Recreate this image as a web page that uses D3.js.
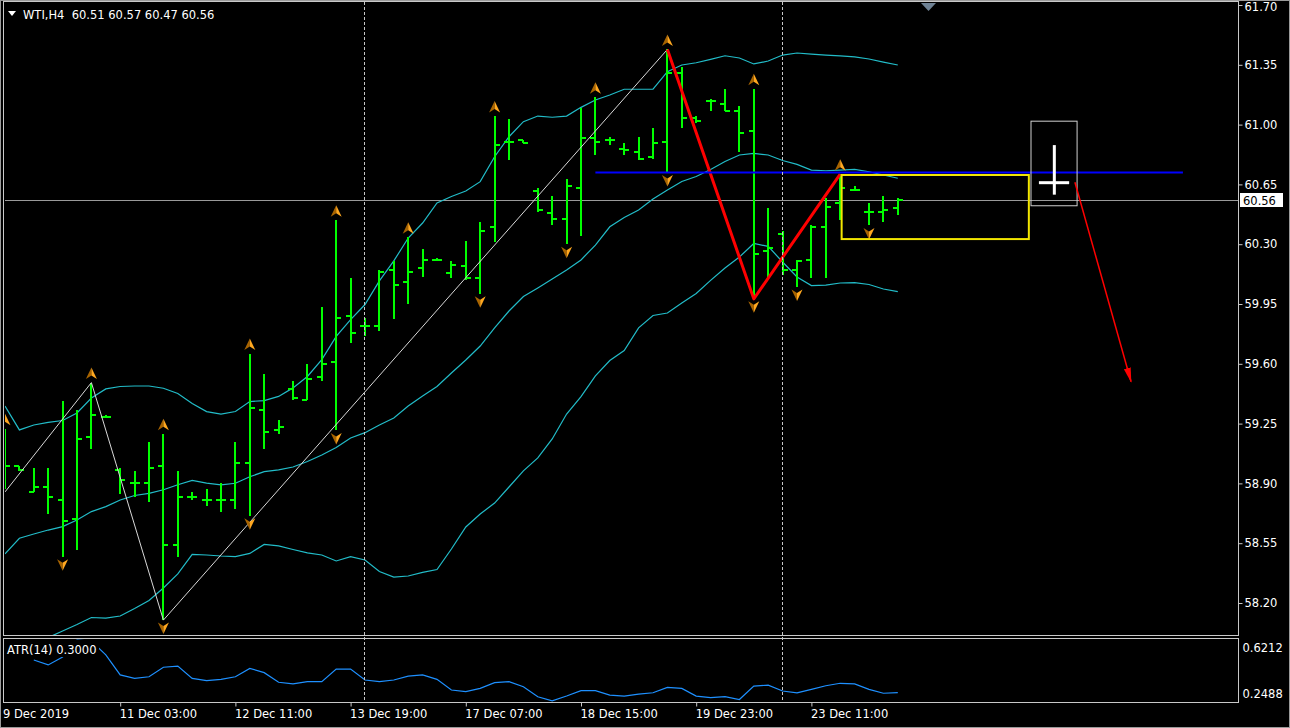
<!DOCTYPE html>
<html>
<head>
<meta charset="utf-8">
<script src="https://cdn.jsdelivr.net/npm/d3@7"></script>
<style>
  body { margin: 0; background: #000; }
  svg { display: block; }
  text { font-family: "DejaVu Sans", sans-serif; font-size: 11.5px; fill: #fff; }
</style>
</head>
<body>
<script>
//WTI H4 bar chart with bollinger bands, zigzag, fractals and ATR(14) subwindow

//Declares Global variables
var W = 1290;
var H = 728;
var Left = 4, Right = 1238, Top = 2, MainBottom = 635;
var SubTop = 639, SubBottom = 702;

//Bar data (OHLC), one entry per H4 bar
var barOpen = [59.00, 59.00, 58.85, 58.88, 58.80, 58.69, 59.17, 59.29, 58.98, 58.90,
  58.90, 59.00, 58.54, 58.82, 58.80, 58.80, 58.80, 59.02, 59.33, 59.21,
  59.45, 59.39, 59.52, 59.61, 59.88, 59.82, 59.82, 60.15, 60.08, 60.16,
  60.21, 60.13, 60.17, 60.10, 60.40, 60.90, 60.91, 60.61, 60.48, 60.45,
  60.63, 60.92, 60.91, 60.86, 60.84, 60.81, 60.90, 61.30, 61.04, 61.14,
  61.12, 61.08, 60.96, 60.26, 60.36, 60.15, 60.21, 60.40, 60.54, 60.62,
  60.49, 60.49, 60.51];
var barHigh = [59.22, 59.00, 58.99, 58.99, 59.38, 59.33, 59.49, 59.30, 58.99, 58.97,
  59.14, 59.19, 58.97, 58.85, 58.87, 58.90, 59.14, 59.66, 59.54, 59.27,
  59.50, 59.60, 59.93, 60.44, 60.10, 59.87, 60.15, 60.20, 60.34, 60.27,
  60.22, 60.20, 60.32, 60.43, 61.05, 61.03, 60.91, 60.63, 60.58, 60.68,
  61.10, 61.16, 60.93, 60.89, 60.93, 60.98, 61.44, 61.34, 61.05, 61.15,
  61.21, 61.11, 61.21, 60.51, 60.38, 60.21, 60.41, 60.57, 60.71, 60.64,
  60.54, 60.58, 60.57];
var barLow = [58.87, 58.97, 58.85, 58.72, 58.47, 58.51, 59.10, 59.28, 58.84, 58.82,
  58.79, 58.10, 58.47, 58.80, 58.77, 58.73, 58.75, 58.71, 59.10, 59.19,
  59.39, 59.39, 59.50, 59.21, 59.72, 59.76, 59.79, 59.86, 59.95, 60.11,
  60.20, 60.10, 60.09, 60.01, 60.31, 60.79, 60.89, 60.49, 60.41, 60.30,
  60.35, 60.82, 60.88, 60.82, 60.79, 60.80, 60.72, 60.98, 61.01, 61.08,
  61.08, 60.84, 59.98, 60.10, 60.12, 60.05, 60.10, 60.10, 60.44, 60.62,
  60.41, 60.43, 60.47];
var barClose = [59.00, 58.98, 58.88, 58.82, 58.68, 59.16, 59.30, 59.29, 58.92, 58.90,
  58.99, 58.54, 58.82, 58.82, 58.80, 58.80, 59.02, 59.34, 59.20, 59.23,
  59.40, 59.51, 59.60, 59.87, 59.78, 59.82, 60.14, 60.06, 60.14, 60.21,
  60.21, 60.18, 60.10, 60.38, 60.88, 60.90, 60.89, 60.50, 60.45, 60.64,
  60.92, 60.90, 60.91, 60.85, 60.80, 60.89, 61.30, 61.04, 61.02, 61.14,
  61.08, 60.95, 60.24, 60.28, 60.15, 60.20, 60.40, 60.52, 60.63, 60.62,
  60.49, 60.50, 60.56];

//Bollinger bands
var bbUpper = [59.353, 59.213, 59.242, 59.257, 59.268, 59.312, 59.400, 59.453, 59.467, 59.470,
  59.470, 59.457, 59.426, 59.368, 59.320, 59.306, 59.321, 59.379, 59.385, 59.409,
  59.459, 59.526, 59.625, 59.760, 59.859, 59.947, 60.085, 60.202, 60.336, 60.424,
  60.541, 60.579, 60.611, 60.666, 60.812, 60.929, 61.017, 61.050, 61.043, 61.050,
  61.101, 61.144, 61.173, 61.207, 61.207, 61.207, 61.310, 61.349, 61.362, 61.382,
  61.403, 61.390, 61.355, 61.372, 61.407, 61.419, 61.413, 61.407, 61.402, 61.396,
  61.384, 61.366, 61.349];
var bbMiddle = [58.487, 58.579, 58.604, 58.627, 58.647, 58.686, 58.735, 58.764, 58.803, 58.829,
  58.842, 58.863, 58.892, 58.918, 58.902, 58.891, 58.901, 58.939, 58.969, 58.979,
  58.996, 59.028, 59.066, 59.110, 59.166, 59.197, 59.242, 59.283, 59.353, 59.412,
  59.467, 59.546, 59.622, 59.704, 59.810, 59.909, 59.994, 60.044, 60.096, 60.149,
  60.208, 60.295, 60.402, 60.456, 60.500, 60.565, 60.617, 60.667, 60.696, 60.737,
  60.784, 60.822, 60.831, 60.822, 60.790, 60.767, 60.734, 60.730, 60.734, 60.738,
  60.724, 60.705, 60.686];
var bbLower = [57.884, 57.919, 57.960, 57.998, 58.036, 58.074, 58.115, 58.111, 58.124, 58.168,
  58.215, 58.288, 58.370, 58.484, 58.481, 58.475, 58.471, 58.490, 58.543, 58.534,
  58.513, 58.493, 58.481, 58.446, 58.471, 58.452, 58.384, 58.352, 58.358, 58.379,
  58.396, 58.516, 58.645, 58.721, 58.785, 58.879, 58.973, 59.049, 59.160, 59.306,
  59.408, 59.529, 59.619, 59.678, 59.810, 59.883, 59.897, 59.956, 60.012, 60.088,
  60.161, 60.225, 60.304, 60.287, 60.196, 60.108, 60.058, 60.061, 60.073, 60.075,
  60.064, 60.038, 60.022];

//ATR(14)
var atrValues = [null, null, 0.499, 0.469, 0.517, 0.621, 0.615, 0.530, 0.408, 0.387,
  0.397, 0.455, 0.462, 0.387, 0.373, 0.381, 0.397, 0.448, 0.422, 0.363,
  0.353, 0.367, 0.367, 0.444, 0.444, 0.377, 0.367, 0.377, 0.401, 0.408,
  0.381, 0.316, 0.306, 0.326, 0.361, 0.367, 0.336, 0.275, 0.250, 0.279,
  0.312, 0.312, 0.285, 0.279, 0.291, 0.299, 0.332, 0.326, 0.279, 0.269,
  0.275, 0.258, 0.340, 0.346, 0.310, 0.299, 0.320, 0.342, 0.357, 0.353,
  0.320, 0.296, 0.300];

//Axis ticks
var priceTicks = [61.70, 61.35, 61.00, 60.65, 60.30, 59.95, 59.60, 59.25, 58.90, 58.55, 58.20];
var atrTicks = [0.6212, 0.2488];
var timeTickBars = [8, 16, 24, 32, 40, 48, 56];
var timeTickLabels = ["11 Dec 03:00", "12 Dec 11:00", "13 Dec 19:00", "17 Dec 07:00",
  "18 Dec 15:00", "19 Dec 23:00", "23 Dec 11:00"];
var firstDateLabel = "9 Dec 2019";
var separatorBars = [25, 54];
var lastPrice = 60.56;
var headerText = "WTI,H4  60.51 60.57 60.47 60.56";
var atrLabel = "ATR(14) 0.3000";

//Fractals and zigzag
var fractalUpBars = [0, 6, 11, 17, 23, 28, 34, 41, 46, 52, 58];
var fractalDownBars = [4, 11, 17, 23, 33, 39, 46, 52, 55, 60];
var zigzagWhite = [[0, 58.85], [6, 59.49], [11, 58.10], [46, 61.44]];
var zigzagRed = [[46, 61.44], [52, 59.98], [58, 60.71]];

//Drawn objects, in bar index / price units
var hlinePrice = 60.72, hlineBars = [41, 81.8];
var yellowBars = [58.1, 71.1], yellowPrices = [60.705, 60.33];
var whiteBars = [71.25, 74.45], whitePrices = [61.02, 60.525];
var crossBar = 72.87, crossPrices = [60.88, 60.59];
var crossPrice = 60.66, crossBars = [71.8, 73.9];
var arrowFrom = [74.3, 60.663], arrowTo = [78.2, 59.495];

function main() {
  var svg = makeSVG("body");
  var xScale = d3.scaleLinear().domain([0, 62]).range([5, 897.8]);
  var yScale = d3.scaleLinear().domain([58.20, 61.70]).range([603, 5]);
  var atrScale = d3.scaleLinear().domain([0.2488, 0.6212]).range([701, 640]);

  makeFrames(svg);
  var gMain = svg.append("g").attr("clip-path", "url(#mainClip)");
  var gSub = svg.append("g").attr("clip-path", "url(#subClip)");

  //period separators go through both windows
  svg.selectAll(".sep")
    .data(separatorBars)
    .enter()
    .append("line")
    .attr("x1", function(d) { return Math.round(xScale(d)) - 0.5; })
    .attr("x2", function(d) { return Math.round(xScale(d)) - 0.5; })
    .attr("y1", Top)
    .attr("y2", SubBottom)
    .attr("stroke", "#c8c8c8")
    .attr("stroke-dasharray", "3,2");

  //bid line
  gMain.append("line")
    .attr("x1", Left).attr("x2", Right)
    .attr("y1", Math.round(yScale(lastPrice)) + 0.5)
    .attr("y2", Math.round(yScale(lastPrice)) + 0.5)
    .attr("stroke", "#9a9a9a");

  drawBands(gMain, xScale, yScale);
  drawBars(gMain, xScale, yScale);
  drawZigzag(gMain, xScale, yScale);
  drawFractals(gMain, xScale, yScale);
  drawObjects(svg, gMain, xScale, yScale);
  drawATR(gSub, svg, xScale, atrScale);
  drawAxes(svg, xScale, yScale, atrScale);
}

function makeSVG(svgLocation) {
  //Creates svg and returns it
  var svg = d3.select(svgLocation)
        .append("svg")
        .attr("width", W)
        .attr("height", H);
  svg.append("rect").attr("width", W).attr("height", H).attr("fill", "#000");
  var defs = svg.append("defs");
  defs.append("clipPath").attr("id", "mainClip")
    .append("rect").attr("x", Left + 1).attr("y", Top + 1)
    .attr("width", Right - Left - 1).attr("height", MainBottom - Top - 1);
  defs.append("clipPath").attr("id", "subClip")
    .append("rect").attr("x", Left + 1).attr("y", SubTop)
    .attr("width", Right - Left - 1).attr("height", SubBottom - SubTop);
  defs.append("marker")
    .attr("id", "arrowHead")
    .attr("markerUnits", "userSpaceOnUse")
    .attr("markerWidth", 16).attr("markerHeight", 8)
    .attr("refX", 14).attr("refY", 3.5)
    .attr("orient", "auto")
    .append("path")
    .attr("d", "M0,0 L15,3.5 L0,7 Z")
    .attr("fill", "#ff0000");
  return svg;
}

function makeFrames(svg) {
  //window border and the two chart frames
  svg.append("rect")
    .attr("x", 0.5).attr("y", 0.5).attr("width", W - 1).attr("height", H - 1)
    .attr("fill", "none").attr("stroke", "#9a9a9a");
  svg.append("rect")
    .attr("x", Left - 0.5).attr("y", Top - 0.5)
    .attr("width", Right - Left + 1).attr("height", MainBottom - Top + 1)
    .attr("fill", "none").attr("stroke", "#c8c8c8");
  svg.append("rect")
    .attr("x", Left - 0.5).attr("y", SubTop - 0.5)
    .attr("width", Right - Left + 1).attr("height", SubBottom - SubTop + 1)
    .attr("fill", "none").attr("stroke", "#c8c8c8");
}

function drawBands(g, xScale, yScale) {
  var bands = [bbUpper, bbMiddle, bbLower];
  var line = d3.line()
    .x(function(d, i) { return xScale(i); })
    .y(function(d) { return yScale(d); });
  g.selectAll(".band")
    .data(bands)
    .enter()
    .append("path")
    .attr("d", line)
    .attr("fill", "none")
    .attr("stroke", "#22bcc8")
    .attr("stroke-width", 1.2);
}

function drawBars(g, xScale, yScale) {
  //high-low line with open tick left and close tick right
  var idx = d3.range(barOpen.length);
  var bars = g.selectAll(".bar")
    .data(idx)
    .enter()
    .append("g")
    .attr("shape-rendering", "crispEdges")
    .attr("fill", "#00ff00");
  bars.append("rect")
    .attr("x", function(i) { return Math.round(xScale(i)) - 1; })
    .attr("y", function(i) { return Math.round(yScale(barHigh[i])); })
    .attr("width", 2)
    .attr("height", function(i) {
      return Math.max(2, Math.round(yScale(barLow[i])) - Math.round(yScale(barHigh[i])));
    });
  bars.append("rect")
    .attr("x", function(i) { return Math.round(xScale(i)) - 5; })
    .attr("y", function(i) { return Math.round(yScale(barOpen[i])) - 1; })
    .attr("width", 5)
    .attr("height", 2);
  bars.append("rect")
    .attr("x", function(i) { return Math.round(xScale(i)); })
    .attr("y", function(i) { return Math.round(yScale(barClose[i])) - 1; })
    .attr("width", 5)
    .attr("height", 2);
}

function drawZigzag(g, xScale, yScale) {
  var line = d3.line()
    .x(function(d) { return xScale(d[0]); })
    .y(function(d) { return yScale(d[1]); });
  g.append("path")
    .attr("d", line(zigzagWhite))
    .attr("fill", "none")
    .attr("stroke", "#d8d8d8")
    .attr("stroke-width", 1);
  g.append("path")
    .attr("d", line(zigzagRed))
    .attr("fill", "none")
    .attr("stroke", "#ff0000")
    .attr("stroke-width", 3)
    .attr("stroke-linejoin", "round");
}

function drawFractals(g, xScale, yScale) {
  //orange arrows above highs and below lows, two-tone like the terminal's
  var up = g.selectAll(".fup")
    .data(fractalUpBars)
    .enter()
    .append("g")
    .attr("transform", function(i) {
      return "translate(" + xScale(i) + "," + (yScale(barHigh[i]) - 9) + ")";
    });
  up.append("path").attr("d", "M0,-6 L0,2 L-5.5,5.5 Z").attr("fill", "#a86400");
  up.append("path").attr("d", "M0,-6 L5.5,5.5 L0,2 Z").attr("fill", "#ffa820");

  var down = g.selectAll(".fdown")
    .data(fractalDownBars)
    .enter()
    .append("g")
    .attr("transform", function(i) {
      return "translate(" + xScale(i) + "," + (yScale(barLow[i]) + 8) + ")";
    });
  down.append("path").attr("d", "M0,6 L0,-2 L-5.5,-5.5 Z").attr("fill", "#a86400");
  down.append("path").attr("d", "M0,6 L5.5,-5.5 L0,-2 Z").attr("fill", "#ffa820");
}

function drawObjects(svg, g, xScale, yScale) {
  //horizontal blue level
  g.append("line")
    .attr("x1", xScale(hlineBars[0])).attr("x2", xScale(hlineBars[1]))
    .attr("y1", yScale(hlinePrice)).attr("y2", yScale(hlinePrice))
    .attr("stroke", "#0000ff").attr("stroke-width", 2);

  //yellow box
  g.append("rect")
    .attr("x", xScale(yellowBars[0]))
    .attr("y", yScale(yellowPrices[0]))
    .attr("width", xScale(yellowBars[1]) - xScale(yellowBars[0]))
    .attr("height", yScale(yellowPrices[1]) - yScale(yellowPrices[0]))
    .attr("fill", "none").attr("stroke", "#f2e600").attr("stroke-width", 2);

  //white box with cross
  g.append("rect")
    .attr("x", xScale(whiteBars[0]))
    .attr("y", yScale(whitePrices[0]))
    .attr("width", xScale(whiteBars[1]) - xScale(whiteBars[0]))
    .attr("height", yScale(whitePrices[1]) - yScale(whitePrices[0]))
    .attr("fill", "none").attr("stroke", "#d0d0d0").attr("stroke-width", 1);
  g.append("line")
    .attr("x1", xScale(crossBar)).attr("x2", xScale(crossBar))
    .attr("y1", yScale(crossPrices[0])).attr("y2", yScale(crossPrices[1]))
    .attr("stroke", "#ffffff").attr("stroke-width", 3);
  g.append("line")
    .attr("x1", xScale(crossBars[0])).attr("x2", xScale(crossBars[1]))
    .attr("y1", yScale(crossPrice)).attr("y2", yScale(crossPrice))
    .attr("stroke", "#ffffff").attr("stroke-width", 3);

  //red arrow
  g.append("line")
    .attr("x1", xScale(arrowFrom[0])).attr("y1", yScale(arrowFrom[1]))
    .attr("x2", xScale(arrowTo[0])).attr("y2", yScale(arrowTo[1]))
    .attr("stroke", "#ff0000").attr("stroke-width", 1.5)
    .attr("marker-end", "url(#arrowHead)");
}

function drawATR(g, svg, xScale, atrScale) {
  var line = d3.line()
    .defined(function(d) { return d != null; })
    .x(function(d, i) { return xScale(i); })
    .y(function(d) { return atrScale(d); });
  g.append("path")
    .attr("d", line(atrValues))
    .attr("fill", "none")
    .attr("stroke", "#1e90ff")
    .attr("stroke-width", 1.2);
  //label sits on a black patch like the terminal does
  svg.append("rect")
    .attr("x", Left + 1).attr("y", SubTop + 1)
    .attr("width", 94).attr("height", 17)
    .attr("fill", "#000");
  svg.append("text")
    .attr("x", 7).attr("y", SubTop + 15)
    .text(atrLabel);
}

function drawAxes(svg, xScale, yScale, atrScale) {
  //price axis on the right
  var yAxis = d3.axisRight(yScale)
    .tickValues(priceTicks)
    .tickSize(4)
    .tickPadding(2)
    .tickFormat(d3.format(".2f"));
  var gy = svg.append("g")
    .attr("transform", "translate(" + (Right + 0.5) + ",0)")
    .call(yAxis);
  styleAxis(gy);
  //top label would be clipped by the window edge
  gy.selectAll("text")
    .attr("y", function(d) { return d == priceTicks[0] ? 2 : 0; });

  //ATR axis, labels pulled inside the window
  var aAxis = d3.axisRight(atrScale)
    .tickValues(atrTicks)
    .tickSize(0)
    .tickPadding(4)
    .tickFormat(d3.format(".4f"));
  var ga = svg.append("g")
    .attr("transform", "translate(" + (Right + 0.5) + ",0)")
    .call(aAxis);
  styleAxis(ga);
  ga.selectAll("text")
    .attr("y", function(d) { return d > 0.5 ? 8 : -7; });

  //time axis under the ATR window
  var xAxis = d3.axisBottom(xScale)
    .tickValues(timeTickBars)
    .tickSize(4)
    .tickFormat(function(d, i) { return timeTickLabels[i]; });
  var gx = svg.append("g")
    .attr("transform", "translate(0," + (SubBottom + 0.5) + ")")
    .call(xAxis);
  styleAxis(gx);
  gx.selectAll("text").attr("text-anchor", "start").attr("x", -1);
  svg.append("text")
    .attr("x", 3).attr("y", SubBottom + 15.5)
    .text(firstDateLabel);

  //last price tag
  var yp = yScale(lastPrice);
  svg.append("rect")
    .attr("x", Right + 2).attr("y", Math.round(yp) - 7)
    .attr("width", 43).attr("height", 14)
    .attr("fill", "#ffffff");
  svg.append("text")
    .attr("x", Right + 5).attr("y", Math.round(yp) + 4.5)
    .style("fill", "#000")
    .text(d3.format(".2f")(lastPrice));

  //header
  svg.append("path")
    .attr("d", "M8,11 L16,11 L12,16 Z")
    .attr("fill", "#ffffff");
  svg.append("text")
    .attr("x", 23).attr("y", 19)
    .style("white-space", "pre")
    .text(headerText);

  //chart shift marker
  svg.append("path")
    .attr("d", "M921,3 L936,3 L928.5,11 Z")
    .attr("fill", "#6f8294");
}

function styleAxis(g) {
  g.select(".domain").remove();
  g.selectAll("line").attr("stroke", "#c8c8c8");
  g.selectAll("text")
    .attr("fill", "#ffffff")
    .style("font-family", "'DejaVu Sans', sans-serif")
    .style("font-size", "11.5px");
}

main();
</script>
</body>
</html>
